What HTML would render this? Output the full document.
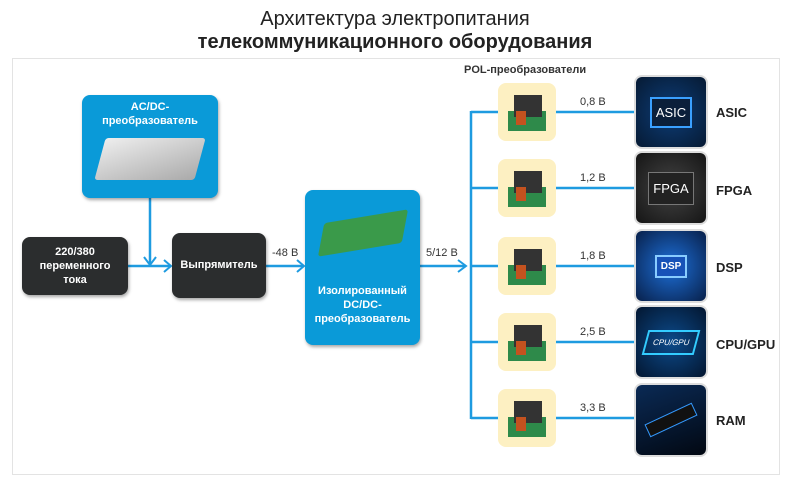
<!DOCTYPE html>
<html><head><meta charset="utf-8"><style>
body{margin:0;width:790px;height:484px;background:#fff;font-family:"Liberation Sans",sans-serif;overflow:hidden;position:relative}
.a{position:absolute}
.t{position:absolute;left:0;width:790px;text-align:center;color:#222}
.box{position:absolute;border-radius:8px;color:#fff;font-weight:bold;font-size:11px;line-height:14px;text-align:center;box-shadow:1px 2px 3px rgba(0,0,0,.35)}
.blue{background:#0a9ad8}.dark{background:#2b2d2e}
.pol{position:absolute;left:498px;width:58px;height:58px;background:#fdf0c2;border-radius:8px}
.chip{position:absolute;left:636px;width:70px;height:70px;border-radius:6px;box-shadow:0 0 0 2px #ddd;color:#fff;font-size:13px;display:flex;align-items:center;justify-content:center}
.lbl{position:absolute;left:716px;font-weight:bold;font-size:13px;color:#222}
.v{position:absolute;left:580px;font-size:11px;color:#333}
</style></head><body>
<div class="t" style="top:8px;font-size:20px">Архитектура электропитания</div>
<div class="t" style="top:31px;font-size:20px;font-weight:bold">телекоммуникационного оборудования</div>
<div class="a" style="left:12px;top:58px;width:766px;height:415px;border:1px solid #e3e3e3"></div>
<div class="a" style="left:464px;top:64px;font-size:11px;font-weight:bold;color:#333">POL-преобразователи</div>
<svg class="a" style="left:0;top:0" width="790" height="484">
<g stroke="#1e9be0" stroke-width="2.5" fill="none">
<path d="M150 198V264M128 266H170M266 266H303M420 266H466M471 111V419"/>
<path d="M471 112H500M471 188H500M471 266H500M471 342H500M471 418H500"/>
<path d="M556 112H634M556 188H634M556 266H634M556 342H634M556 418H634"/>
<path d="M144 257L150 265L156 257M164 260L171 266L164 272M297 260L304 266L297 272M458 260L466 266L458 272" stroke-width="2"/>
</g></svg>
<div class="box blue" style="left:82px;top:95px;width:136px;height:103px;padding-top:5px;box-sizing:border-box">AC/DC-<br>преобразователь
<div style="margin:10px auto 0;width:100px;height:42px;background:linear-gradient(160deg,#eee,#aaa);border-radius:3px;transform:skewX(-15deg)"></div></div>
<div class="box dark" style="left:22px;top:237px;width:106px;height:58px;padding-top:8px;box-sizing:border-box">220/380<br>переменного<br>тока</div>
<div class="box dark" style="left:172px;top:233px;width:94px;height:65px;line-height:65px">Выпрямитель</div>
<div class="box blue" style="left:305px;top:190px;width:115px;height:155px">
<div style="margin:26px auto 0;width:80px;height:34px;background:#3a9a4a;border-radius:3px;transform:skewX(-20deg) rotate(-10deg)"></div>
<div style="margin-top:34px">Изолированный<br>DC/DC-<br>преобразователь</div></div>
<div class="a" style="left:272px;top:247px;font-size:11px;color:#333">-48 В</div>
<div class="a" style="left:426px;top:247px;font-size:11px;color:#333">5/12 В</div>
<div class="pol" style="top:83px"></div><div class="pol" style="top:159px"></div><div class="pol" style="top:237px"></div><div class="pol" style="top:313px"></div><div class="pol" style="top:389px"></div>
<svg class="a" style="left:498px;top:0" width="58" height="484"><g>
<g transform="translate(0,83)"><rect x="10" y="28" width="38" height="20" fill="#2e8a4a"/><rect x="16" y="12" width="28" height="22" fill="#333"/><rect x="18" y="28" width="10" height="14" fill="#c4521f"/></g>
<g transform="translate(0,159)"><rect x="10" y="28" width="38" height="20" fill="#2e8a4a"/><rect x="16" y="12" width="28" height="22" fill="#333"/><rect x="18" y="28" width="10" height="14" fill="#c4521f"/></g>
<g transform="translate(0,237)"><rect x="10" y="28" width="38" height="20" fill="#2e8a4a"/><rect x="16" y="12" width="28" height="22" fill="#333"/><rect x="18" y="28" width="10" height="14" fill="#c4521f"/></g>
<g transform="translate(0,313)"><rect x="10" y="28" width="38" height="20" fill="#2e8a4a"/><rect x="16" y="12" width="28" height="22" fill="#333"/><rect x="18" y="28" width="10" height="14" fill="#c4521f"/></g>
<g transform="translate(0,389)"><rect x="10" y="28" width="38" height="20" fill="#2e8a4a"/><rect x="16" y="12" width="28" height="22" fill="#333"/><rect x="18" y="28" width="10" height="14" fill="#c4521f"/></g>
</g></svg>
<div class="v" style="top:96px">0,8 В</div><div class="v" style="top:172px">1,2 В</div><div class="v" style="top:250px">1,8 В</div><div class="v" style="top:326px">2,5 В</div><div class="v" style="top:402px">3,3 В</div>
<div class="chip" style="top:77px;background:radial-gradient(#0d3d78,#061a33)"><span style="border:2px solid #3aa0ff;padding:6px 4px;background:#0b1f3a">ASIC</span></div>
<div class="chip" style="top:153px;background:radial-gradient(#444,#151515)"><span style="border:1px solid #777;padding:8px 4px;background:#222">FPGA</span></div>
<div class="chip" style="top:231px;background:radial-gradient(#1d6fd8,#08204a)"><span style="border:2px solid #8cf;padding:4px;background:#1752b8;font-size:10px;font-weight:bold">DSP</span></div>
<div class="chip" style="top:307px;background:radial-gradient(#0c4a8a,#031630)"><span style="border:2px solid #3cf;padding:6px;font-size:8px;transform:skewX(-15deg)">CPU/GPU</span></div>
<div class="chip" style="top:385px;background:linear-gradient(160deg,#0a2a55,#020812)"><span style="width:50px;height:12px;background:#111;border:1px solid #39f;transform:rotate(-25deg)"></span></div>
<div class="lbl" style="top:105px">ASIC</div><div class="lbl" style="top:183px">FPGA</div><div class="lbl" style="top:260px">DSP</div><div class="lbl" style="top:337px">CPU/GPU</div><div class="lbl" style="top:413px">RAM</div>
</body></html>
